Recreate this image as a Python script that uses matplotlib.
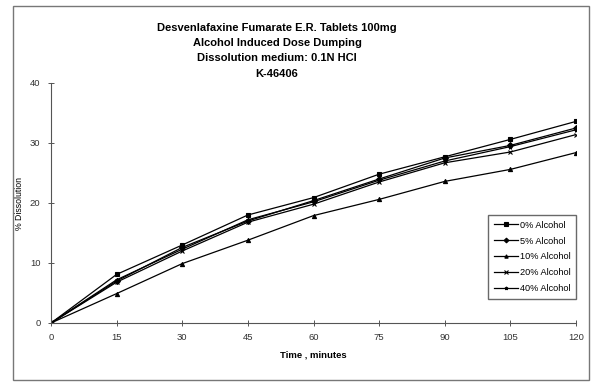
import matplotlib.pyplot as plt
from matplotlib.patches import Rectangle

plt.rcParams['font.family'] = ['Liberation Sans', 'DejaVu Sans']

# sampling times (minutes)
time = [0, 15, 30, 45, 60, 75, 90, 105, 120]
# % dissolved for each alcohol level
alc0 = [0, 8.1, 13.0, 18.0, 20.9, 24.8, 27.7, 30.6, 33.6]
alc5 = [0, 7.0, 12.6, 17.0, 20.4, 24.0, 27.5, 29.6, 32.5]
alc10 = [0, 4.9, 9.9, 13.8, 17.9, 20.6, 23.6, 25.6, 28.4]
alc20 = [0, 6.8, 12.0, 16.8, 19.8, 23.5, 26.7, 28.5, 31.4]
alc40 = [0, 7.2, 12.3, 17.2, 20.2, 23.8, 27.0, 29.4, 32.2]
labels = ['0% Alcohol', '5% Alcohol', '10% Alcohol', '20% Alcohol', '40% Alcohol']
markers = ['s', 'D', '^', 'x', '*']

fig = plt.figure(figsize=(5.91, 3.85), dpi=100)
ax = fig.add_axes([51 / 591, 1 - 323 / 385, 525 / 591, 240 / 385])

for ys, lab, m in zip([alc0, alc5, alc10, alc20, alc40], labels, markers):
    ax.plot(time, ys, color='black', lw=0.9, marker=m, ms=3, mew=0.8, label=lab)

ax.set_xlim(0, 120)
ax.set_ylim(0, 40)
ax.set_xticks(time)
ax.set_yticks([0, 10, 20, 30, 40])
ax.spines['top'].set_visible(False)
ax.spines['right'].set_visible(False)
for s in ['left', 'bottom']:
    ax.spines[s].set_color('#555555')
    ax.spines[s].set_linewidth(0.8)
ax.tick_params(direction='inout', length=5, width=0.7, colors='#555555',
               labelsize=6.8, labelcolor='#333333', pad=5)
ax.set_xlabel('Time , minutes', fontsize=6.8, fontweight='bold', labelpad=6)
ax.set_ylabel('% Dissolution', fontsize=6.3, labelpad=4)

ax.legend(loc='lower right', bbox_to_anchor=(1.005, 0.09), fontsize=6.6,
          frameon=True, fancybox=False, edgecolor='#444444',
          handlelength=2.6, labelspacing=0.75, borderpad=0.6, handletextpad=0.2,
          borderaxespad=0.3, markerscale=0.8)

title = ('Desvenlafaxine Fumarate E.R. Tablets 100mg\n'
         'Alcohol Induced Dose Dumping\n'
         'Dissolution medium: 0.1N HCl\n'
         'K-46406')
fig.text(277 / 591, 1 - 23 / 385, title, ha='center', va='top', fontsize=8,
         fontweight='bold', linespacing=1.65)

# outer chart frame
fig.patches.append(Rectangle((13 / 591, 5 / 385), 576 / 591, 374 / 385,
                             transform=fig.transFigure, fill=False,
                             edgecolor='#777777', lw=1))

fig.savefig('out.png', dpi=100)
